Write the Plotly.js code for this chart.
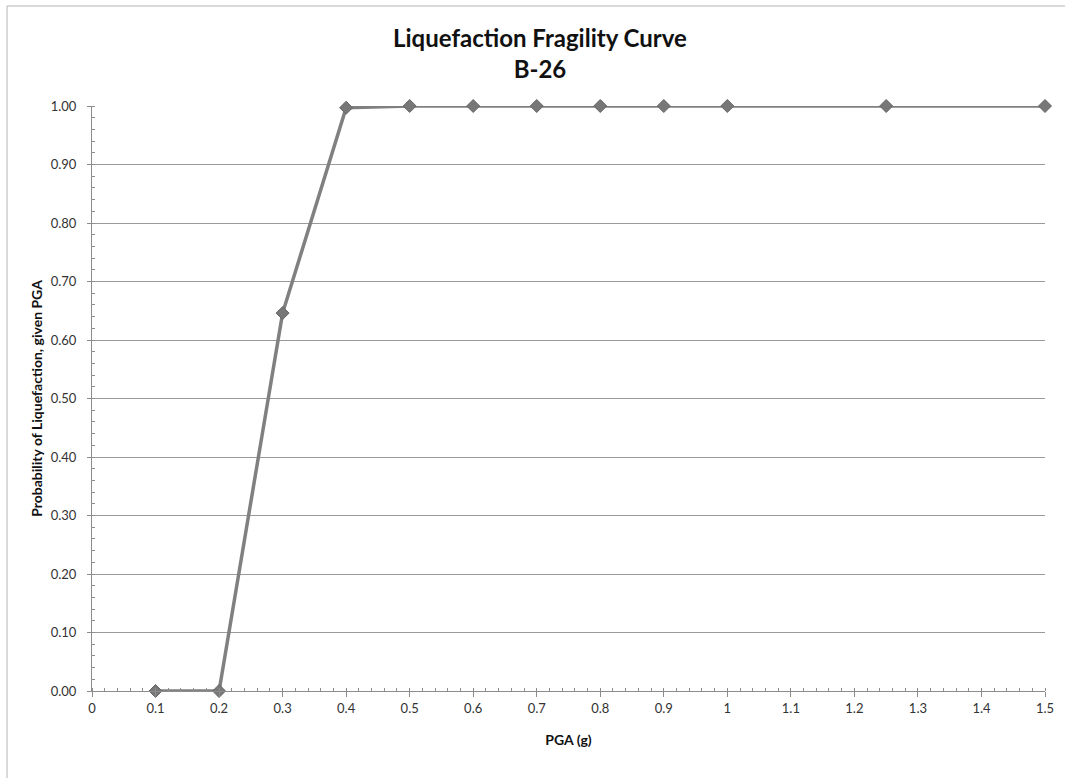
<!DOCTYPE html>
<html>
<head>
<meta charset="utf-8">
<script src="https://cdn.plot.ly/plotly-3.0.1.min.js"></script>
<style>
html,body{margin:0;padding:0;background:#fff;}
#chart{width:1065px;height:778px;}
</style>
</head>
<body>
<div id="chart"></div>
<script>
const pga = [0.1, 0.2, 0.3, 0.4, 0.5, 0.6, 0.7, 0.8, 0.9, 1.0, 1.25, 1.5];
const probability = [0.0, 0.0, 0.646, 0.997, 1.0, 1.0, 1.0, 1.0, 1.0, 1.0, 1.0, 1.0];
const titleText = 'Liquefaction Fragility Curve<br>B-26';
const xTitle = 'PGA (g)';
const yTitle = 'Probability of Liquefaction, given PGA';
const xTickVals = [0, 0.1, 0.2, 0.3, 0.4, 0.5, 0.6, 0.7, 0.8, 0.9, 1, 1.1, 1.2, 1.3, 1.4, 1.5];
const xTickText = ['0', '0.1', '0.2', '0.3', '0.4', '0.5', '0.6', '0.7', '0.8', '0.9', '1', '1.1', '1.2', '1.3', '1.4', '1.5'];

const font = 'Lato, "Open Sans", sans-serif';

const trace = {
  x: pga,
  y: probability,
  type: 'scatter',
  mode: 'lines+markers',
  line: {color: '#808080', width: 3.5},
  marker: {symbol: 'diamond', size: 10, color: '#777777', line: {color: '#666666', width: 1}},
  cliponaxis: false,
  showlegend: false,
  hoverinfo: 'x+y'
};

const layout = {
  width: 1065,
  height: 778,
  margin: {l: 92, r: 20, t: 106, b: 87},
  paper_bgcolor: '#ffffff',
  plot_bgcolor: '#ffffff',
  title: {
    text: titleText,
    x: 0.507, xref: 'container', xanchor: 'center',
    y: 0.94, yref: 'container', yanchor: 'top',
    font: {family: font, size: 24, color: '#111111', weight: 'bold'}
  },
  xaxis: {
    range: [0, 1.5],
    tickvals: xTickVals,
    ticktext: xTickText,
    showgrid: false,
    zeroline: false,
    showline: true,
    linecolor: '#8c8c8c',
    linewidth: 1,
    ticks: 'outside',
    ticklen: 5,
    tickcolor: '#8c8c8c',
    minor: {dtick: 0.02, ticks: 'inside', ticklen: 3, tickcolor: '#8c8c8c', showgrid: false},
    tickfont: {family: font, size: 13, color: '#333333'},
    title: {text: xTitle, standoff: 20, font: {family: font, size: 14, color: '#111111', weight: 'bold'}},
    fixedrange: true
  },
  yaxis: {
    range: [0, 1],
    dtick: 0.1,
    tickformat: '.2f',
    showgrid: true,
    gridcolor: '#9a9a9a',
    gridwidth: 1,
    zeroline: false,
    showline: true,
    linecolor: '#8c8c8c',
    linewidth: 1,
    ticks: 'outside',
    ticklen: 4,
    tickcolor: '#8c8c8c',
    ticklabelstandoff: 8,
    minor: {dtick: 0.02, ticks: 'inside', ticklen: 3, tickcolor: '#8c8c8c', showgrid: false},
    tickfont: {family: font, size: 13, color: '#333333'},
    title: {text: yTitle, standoff: 4, font: {family: font, size: 14, color: '#111111', weight: 'bold'}},
    fixedrange: true
  },
  shapes: [{
    type: 'rect', xref: 'paper', yref: 'paper',
    x0: (7 - 92) / 953, x1: 1.2, y0: -0.3, y1: (691 - 6) / 585,
    line: {color: '#b5b5b5', width: 1}, layer: 'below'
  }]
};

Plotly.newPlot('chart', [trace], layout, {displayModeBar: false, staticPlot: true});
</script>
</body>
</html>
